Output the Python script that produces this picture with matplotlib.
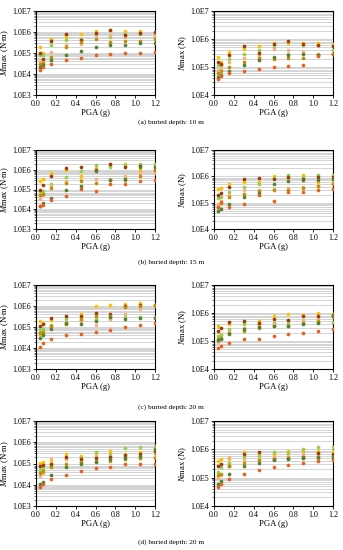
import numpy as np
import matplotlib
matplotlib.use("Agg")
import matplotlib.pyplot as plt
from matplotlib.ticker import LogLocator, FixedLocator, FuncFormatter

plt.rcParams['font.family'] = ['Liberation Serif', 'DejaVu Serif']
plt.rcParams['mathtext.fontset'] = 'custom'
plt.rcParams['mathtext.it'] = 'Liberation Serif:italic'
plt.rcParams['mathtext.rm'] = 'Liberation Serif'

# PGA values (g)
pga = [0.045, 0.07, 0.15, 0.3, 0.45, 0.6, 0.75, 0.9, 1.05, 1.2]

# series colours
series = ['yellow', 'light green', 'salmon', 'dark red', 'olive', 'dark green', 'orange']
colors = ['#FFC000', '#92D050', '#F4B183', '#9E3B0A', '#BF8F00', '#548235', '#E8601C']

# (a) buried depth 10 m
a_M = [
    [1.9e5, 1.0e5, 4.8e5, 5.8e5, 8.3e5, 1.1e6, 1.2e6, 1.1e6, 1.1e6, 8.3e5],
    [8e4, 7.7e4, 2.3e5, 4e5, 4.8e5, 8.3e5, 5.8e5, 8.3e5, 8.3e5, 5.8e5],
    [4e4, 4.5e4, 1.1e5, 2.5e5, 2.8e5, 7.5e5, 7.5e5, 5.8e5, 9e5, 7e5],
    [1e5, 5e4, 3.7e5, 8.3e5, 4e5, 9e5, 1.3e6, 7e5, 9e5, 1e6],
    [3e4, 3.5e4, 6.4e4, 1.9e5, 3.3e5, 4.5e5, 3.5e5, 3.6e5, 3.6e5, 4.5e5],
    [2.2e4, 2.6e4, 4.5e4, 8.3e4, 1.3e5, 1.9e5, 2.3e5, 2.5e5, 3.1e5, 3.1e5],
    [1.5e4, 2.2e4, 3.1e4, 4.8e4, 6e4, 8.3e4, 9e4, 9.5e4, 1.0e5, 1.1e5],
]
a_N = [
    [2.3e5, 1.5e5, 3.4e5, 4.5e5, 5.6e5, 7.2e5, 7e5, 7.2e5, 7.4e5, 6.8e5],
    [1.2e5, 1.2e5, 2e5, 3e5, 4.2e5, 5.2e5, 3e5, 5.9e5, 3e5, 3.9e5],
    [8e4, 9e4, 1.5e5, 2.15e5, 2.6e5, 4.5e5, 4.2e5, 3.4e5, 5.6e5, 6e5],
    [1.5e5, 1.3e5, 2.6e5, 5.6e5, 3.25e5, 6.5e5, 8.2e5, 6.5e5, 5.9e5, 5.5e5],
    [6e4, 7e4, 1e5, 1.5e5, 2.15e5, 2e5, 2.15e5, 2.15e5, 2.7e5, 3e5],
    [4.4e4, 5e4, 7.2e4, 1.15e5, 1.73e5, 2.3e5, 2.6e5, 2.8e5, 2.6e5, 3e5],
    [3.8e4, 4.6e4, 6.1e4, 7.2e4, 8.7e4, 1e5, 1.08e5, 1.15e5, 2.4e5, 2.8e5],
]

# (b) buried depth 15 m
b_M = [
    [2.7e5, 3.5e5, 6.5e5, 1.0e6, 4.8e5, 1.26e6, 1.66e6, 1.87e6, 1.0e6, 1.5e6],
    [8e4, 8.2e4, 2e5, 4.4e5, 8.5e5, 1.7e6, 1.4e6, 1.7e6, 1.87e6, 1.87e6],
    [3.5e4, 5e4, 1.5e5, 2.6e5, 3.2e5, 3.5e5, 3.5e5, 5.1e5, 6.5e5, 7e5],
    [1.0e5, 1.6e5, 5.1e5, 1.26e6, 1.4e6, 1e6, 1.87e6, 1.37e6, 1.5e6, 1.0e6],
    [5e4, 6e4, 1.2e5, 2.2e5, 2.6e5, 2.2e5, 3e5, 3.2e5, 5e5, 1.0e6],
    [1.5e4, 2.1e4, 3.8e4, 8.9e4, 1.5e5, 8.5e5, 2.9e5, 3.5e5, 1.4e6, 1.4e6],
    [1.4e4, 1.7e4, 3.1e4, 4.6e4, 1.1e5, 8e4, 1.8e5, 1.8e5, 2.6e5, 3.2e5],
]
b_N = [
    [3.25e5, 3.7e5, 4.9e5, 6.1e5, 6.1e5, 1e6, 8.6e5, 1.15e6, 6.1e5, 7e5],
    [1.5e5, 1.7e5, 2.6e5, 4e5, 4.9e5, 8.6e5, 1.09e6, 9.4e5, 1.09e6, 1.09e6],
    [9e4, 1.2e5, 1.94e5, 3e5, 3e5, 3.45e5, 3.7e5, 4e5, 4.3e5, 5.8e5],
    [1.94e5, 2.4e5, 4e5, 8.2e5, 8.9e5, 8e5, 9.4e5, 8e5, 9.4e5, 9.4e5],
    [7e4, 1e5, 1.6e5, 2.2e5, 2.8e5, 3e5, 3e5, 3.7e5, 4.3e5, 5e5],
    [4.9e4, 5.8e4, 8.7e4, 1.6e5, 2.4e5, 5e5, 6.5e5, 7e5, 7.5e5, 8.2e5],
    [7.1e4, 1.09e5, 7.1e4, 8.7e4, 1.94e5, 1.19e5, 2.6e5, 2.6e5, 3e5, 3.25e5],
]

# (c) buried depth 20 m
c_M = [
    [1.9e5, 1.5e5, 2.1e5, 1.44e5, 4e5, 1e6, 1.16e6, 1.3e6, 1.4e6, 1.08e6],
    [7e4, 8.3e4, 1.3e5, 2.5e5, 2.1e5, 2.5e5, 2.5e5, 3e5, 3e5, 3e5],
    [4e4, 5e4, 1e5, 1.7e5, 2e5, 1.2e5, 2.5e5, 4.3e5, 6.9e5, 1.0e6],
    [1.1e5, 1.4e5, 2.8e5, 3.3e5, 3.3e5, 4.8e5, 4.3e5, 1e6, 1.08e6, 1.08e6],
    [5e4, 6e4, 1.1e5, 1.4e5, 2.5e5, 3.5e5, 3.5e5, 9e5, 1e6, 1.1e6],
    [3e4, 4e4, 8e4, 1.5e5, 1.44e5, 2e5, 3e5, 2.5e5, 2.8e5, 2.8e5],
    [1.1e4, 1.7e4, 2.8e4, 4e4, 4.8e4, 5.8e4, 7.5e4, 1e5, 1.3e5, 1.55e5],
]
c_N = [
    [3.4e5, 1.72e5, 3.9e5, 4.45e5, 5.35e5, 7.6e5, 9.2e5, 8.7e5, 1e6, 9.2e5],
    [1.5e5, 1.7e5, 2.6e5, 3.9e5, 3.9e5, 4.45e5, 4.45e5, 4.45e5, 4.8e5, 4.8e5],
    [9.5e4, 1.2e5, 2.2e5, 2.95e5, 3.4e5, 3.9e5, 5.8e5, 5.8e5, 6.6e5, 7e5],
    [2.25e5, 2.95e5, 4.8e5, 5.35e5, 4.45e5, 6.3e5, 5.5e5, 7.6e5, 7.6e5, 8.7e5],
    [1.2e5, 1.3e5, 1.97e5, 2.25e5, 3e5, 3.4e5, 3.4e5, 4.5e5, 5e5, 7.5e5],
    [1.1e5, 1.2e5, 1.8e5, 2.6e5, 3.1e5, 3.4e5, 3.4e5, 4e5, 4.5e5, 7.6e5],
    [5.5e4, 6.7e4, 8.7e4, 1.15e5, 1.15e5, 1.5e5, 1.72e5, 1.97e5, 2.25e5, 2.6e5],
]

# (d) buried depth 20 m
d_M = [
    [1.1e5, 1.24e5, 1.33e5, 2.7e5, 2.3e5, 2.7e5, 3.9e5, 2.9e5, 3.3e5, 3.5e5],
    [5e4, 6e4, 8.4e4, 1.6e5, 1.8e5, 3.3e5, 2.7e5, 5.6e5, 6.3e5, 6.7e5],
    [2.5e4, 3.5e4, 1.6e5, 1.6e5, 1.24e5, 2.3e5, 2.3e5, 2.3e5, 1.9e5, 2.3e5],
    [7.8e4, 8.7e4, 1e5, 2.1e5, 1.6e5, 1.9e5, 2.1e5, 2.5e5, 2.9e5, 4e5],
    [3.5e4, 4.5e4, 7e4, 9.3e4, 1.2e5, 1.33e5, 1.33e5, 1.6e5, 1.8e5, 1.8e5],
    [1.1e4, 1.4e4, 3e4, 6.5e4, 9.3e4, 1.2e5, 1.6e5, 1.9e5, 2.3e5, 5e5],
    [7.5e3, 1.1e4, 1.85e4, 3e4, 4.5e4, 6e4, 7.2e4, 9.3e4, 1e5, 1e5],
]
d_N = [
    [3.9e5, 4.4e5, 4.4e5, 7.9e5, 6.9e5, 6.6e5, 8.5e5, 8.5e5, 9e5, 8.5e5],
    [1.6e5, 2.4e5, 3.4e5, 5.3e5, 5.8e5, 7.9e5, 7.5e5, 1.03e6, 1.2e6, 1.17e6],
    [1e5, 1.2e5, 5.3e5, 4.1e5, 4.7e5, 5.3e5, 5.8e5, 6.6e5, 6.6e5, 6.2e5],
    [2.6e5, 3.16e5, 2.6e5, 6.6e5, 7.9e5, 4.4e5, 5e5, 5.5e5, 7.5e5, 6.9e5],
    [1.2e5, 1.4e5, 2.6e5, 3.4e5, 4.1e5, 4.4e5, 4.8e5, 5.1e5, 5.1e5, 4.8e5],
    [5.9e4, 7.7e4, 1.37e5, 2.5e5, 3.4e5, 4.1e5, 4.4e5, 5.1e5, 5.5e5, 5.5e5],
    [4.8e4, 6.2e4, 8.8e4, 1.37e5, 1.87e5, 2.3e5, 2.85e5, 3.25e5, 3.9e5, 4.2e5],
]

captions = ['(a) buried depth: 10 m', '(b) buried depth: 15 m',
            '(c) buried depth: 20 m', '(d) buried depth: 20 m']
M_data = [a_M, b_M, c_M, d_M]
N_data = [a_N, b_N, c_N, d_N]

W, H = 343, 550
fig = plt.figure(figsize=(W / 100, H / 100), dpi=100)

# panel boxes in pixels: (top, bottom)
rows = [(11, 95), (150, 229), (285, 369), (421, 506)]
cap_y = [122, 262, 407, 542]


def sci(v, pos):
    e = int(round(np.log10(v)))
    return '1.0E%d' % e


def style(ax, lo, hi, ylabel):
    ax.set_yscale('log')
    ax.set_ylim(lo, hi)
    ax.set_xlim(0, 1.2)
    ax.xaxis.set_major_locator(FixedLocator([0, 0.2, 0.4, 0.6, 0.8, 1.0, 1.2]))
    ax.xaxis.set_major_formatter(FuncFormatter(lambda v, p: '%.1f' % v))
    ax.yaxis.set_major_locator(LogLocator(base=10, numticks=10))
    ax.yaxis.set_major_formatter(FuncFormatter(sci))
    ax.yaxis.set_minor_locator(LogLocator(base=10, subs=np.arange(2, 10), numticks=10))
    ax.yaxis.set_minor_formatter(FuncFormatter(lambda v, p: ''))
    ax.grid(True, which='both', axis='y', color='#d4d4d4', lw=0.7, zorder=0)
    ax.set_axisbelow(True)
    ax.tick_params(axis='both', which='major', labelsize=5.8, length=2, width=0.6, pad=1.5)
    ax.tick_params(axis='y', which='minor', length=1.2, width=0.4)
    ax.tick_params(axis='x', direction='out')
    for s in ax.spines.values():
        s.set_linewidth(0.8)
    ax.set_xlabel('PGA (g)', fontsize=6.2, labelpad=0.5)
    ax.set_ylabel(ylabel, fontsize=6.2, labelpad=1)


for i in range(4):
    top, bot = rows[i]
    for j, (x0, x1) in enumerate([(36, 155), (214, 333)]):
        ax = fig.add_axes([x0 / W, 1 - bot / H, (x1 - x0) / W, (bot - top) / H])
        if j == 0:
            data = M_data[i]
            style(ax, 1e3, 1e7, r'$M$max (N$\cdot$m)')
        else:
            data = N_data[i]
            style(ax, 1e4, 1e7, r'$N$max (N)')
        for k in range(len(series)):
            ax.scatter(pga, data[k], s=7, color=colors[k], lw=0, zorder=3)
    fig.text(171 / W, 1 - cap_y[i] / H, captions[i], ha='center', va='center', fontsize=5.3)

fig.savefig('out.png', dpi=100)
